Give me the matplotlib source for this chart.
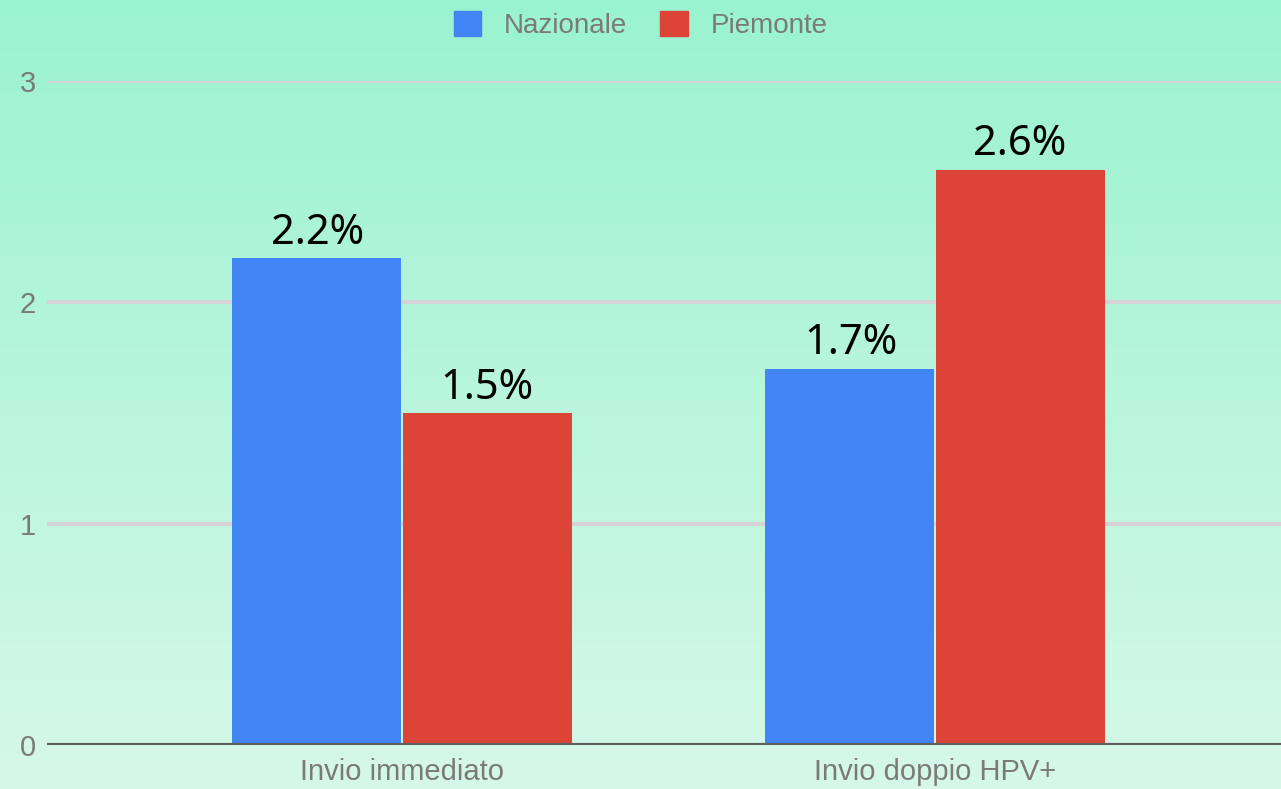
import numpy as np
import matplotlib.pyplot as plt
from matplotlib.patches import Patch
from matplotlib.colors import LinearSegmentedColormap

categories = ["Invio immediato", "Invio doppio HPV+"]
nazionale = [2.2, 1.7]
piemonte = [1.5, 2.6]
series_names = ["Nazionale", "Piemonte"]
yticks = [0, 1, 2, 3]

blue = "#4285f4"
red = "#db4437"
grey_text = "#7a7a7a"

fig = plt.figure(figsize=(12.81, 7.89), dpi=100)

# background gradient, mint at top to pale at bottom
bg = fig.add_axes([0, 0, 1, 1], zorder=-1)
cmap = LinearSegmentedColormap.from_list("mint", ["#d6f8e9", "#9af3d0"])
bg.imshow(np.linspace(0, 1, 256).reshape(-1, 1), aspect="auto", cmap=cmap,
          origin="lower", extent=[0, 1, 0, 1])
bg.axis("off")

ax = fig.add_axes([47 / 1281, 44 / 789, 1 - 47 / 1281, (745 - 81) / 789])
ax.set_facecolor("none")

x = np.arange(len(categories))
w = 0.317
ax.bar(x - w / 2 - 0.002, nazionale, w, color=blue, zorder=3)
ax.bar(x + w / 2 + 0.002, piemonte, w, color=red, zorder=3)

for xi, v in zip(x - w / 2, nazionale):
    ax.text(xi, v + 0.02, f"{v:.1f}%", ha="center", va="bottom",
            fontsize=30, family="Noto Sans", color="black", zorder=4)
for xi, v in zip(x + w / 2, piemonte):
    ax.text(xi, v + 0.02, f"{v:.1f}%", ha="center", va="bottom",
            fontsize=30, family="Noto Sans", color="black", zorder=4)

ax.set_xlim(-0.666, 1.649)
ax.set_ylim(0, 3)
ax.set_yticks(yticks)
ax.set_xticks(x)
ax.set_xticklabels(categories)
ax.tick_params(length=0, labelsize=21, labelcolor=grey_text)
ax.tick_params(axis="y", pad=8)
ax.tick_params(axis="x", pad=9)
for lab in ax.get_xticklabels() + ax.get_yticklabels():
    lab.set_family("Liberation Sans")

ax.grid(axis="y", color="#d6d3d6", linewidth=3, zorder=0)
ax.axhline(0, color="#5f5f5f", linewidth=3, zorder=5)
for s in ax.spines.values():
    s.set_visible(False)

handles = [Patch(color=blue), Patch(color=red)]
leg = fig.legend(handles, series_names, loc="upper center", ncol=2,
                 bbox_to_anchor=(0.5, 1.018), frameon=False,
                 prop={"family": "Liberation Sans", "size": 20},
                 handlelength=1.0, handleheight=1.0, handletextpad=0.8,
                 columnspacing=1.2)
for t in leg.get_texts():
    t.set_color(grey_text)

fig.savefig("out.png", dpi=100)
